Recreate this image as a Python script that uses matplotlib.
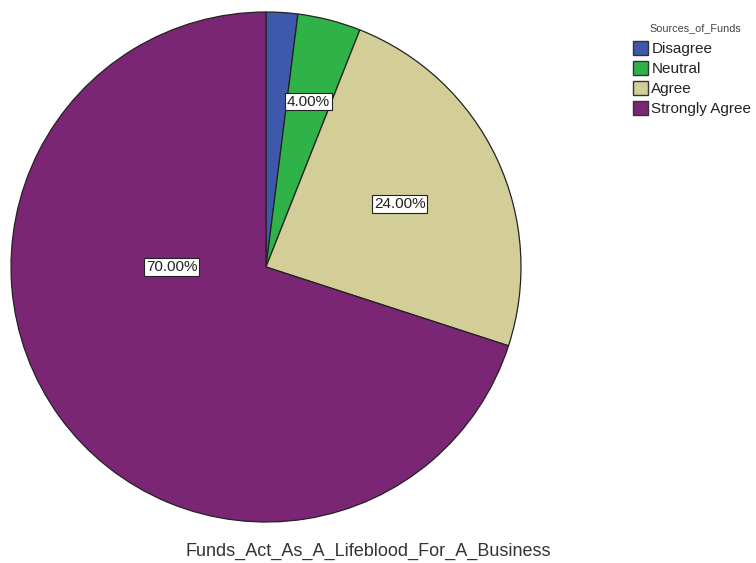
import matplotlib.pyplot as plt
import numpy as np
from matplotlib.patches import Patch

plt.rcParams['font.family'] = ['Liberation Sans', 'DejaVu Sans']

# response share per category (percent)
categories = ["Disagree", "Neutral", "Agree", "Strongly Agree"]
percents = np.array([2.0, 4.0, 24.0, 70.0])
colors = ["#3e58ac", "#2fb348", "#d3ce97", "#7a2674"]
show_label = [False, True, True, True]
# radial distance of each value label, as a fraction of the radius
label_dist = [0.6, 0.67, 0.58, 0.37]

fig = plt.figure(figsize=(7.56, 5.63), dpi=100)
ax = fig.add_axes([0, 0, 1, 1])

cx, cy, r = 266, 296, 255
wedges, _ = ax.pie(percents, colors=colors, startangle=90, counterclock=False,
                   center=(cx, cy), radius=r, frame=True,
                   wedgeprops=dict(edgecolor="#222222", linewidth=0.9))
ax.set_xlim(0, 756)
ax.set_ylim(0, 563)
ax.set_aspect('equal')
ax.axis('off')

# value labels with white boxes, along each wedge's middle angle
for w, p, show, d in zip(wedges, percents, show_label, label_dist):
    if not show:
        continue
    mid = np.deg2rad((w.theta1 + w.theta2) / 2)
    if p >= 50:
        mid = np.pi  # big slice: label sits left of centre
    x = cx + d * r * np.cos(mid)
    y = cy + d * r * np.sin(mid)
    ax.text(x, y, f"{p:.2f}%", ha='center', va='center', fontsize=11,
            color="#222222",
            bbox=dict(boxstyle='square,pad=0.1', fc='white', ec='#222222', lw=0.8))

ax.text(368, 12, "Funds_Act_As_A_Lifeblood_For_A_Business", ha='center',
        va='center', fontsize=13, color="#333333")

# legend, with its title drawn separately for a wider gap
handles = [Patch(facecolor=c, edgecolor="#333333", label=l) for c, l in zip(colors, categories)]
leg = ax.legend(handles=handles, loc='upper left',
                bbox_to_anchor=(633 / 756, 1 - 41 / 563), frameon=False,
                fontsize=11, handlelength=1.0, handleheight=1.0,
                handletextpad=0.2, labelspacing=0.33, borderaxespad=0, borderpad=0)
for t in leg.get_texts():
    t.set_color("#222222")
ax.text(695, 535, "Sources_of_Funds", ha='center', va='center',
        fontsize=7.8, color="#444444")

fig.savefig("out.png", dpi=100)
